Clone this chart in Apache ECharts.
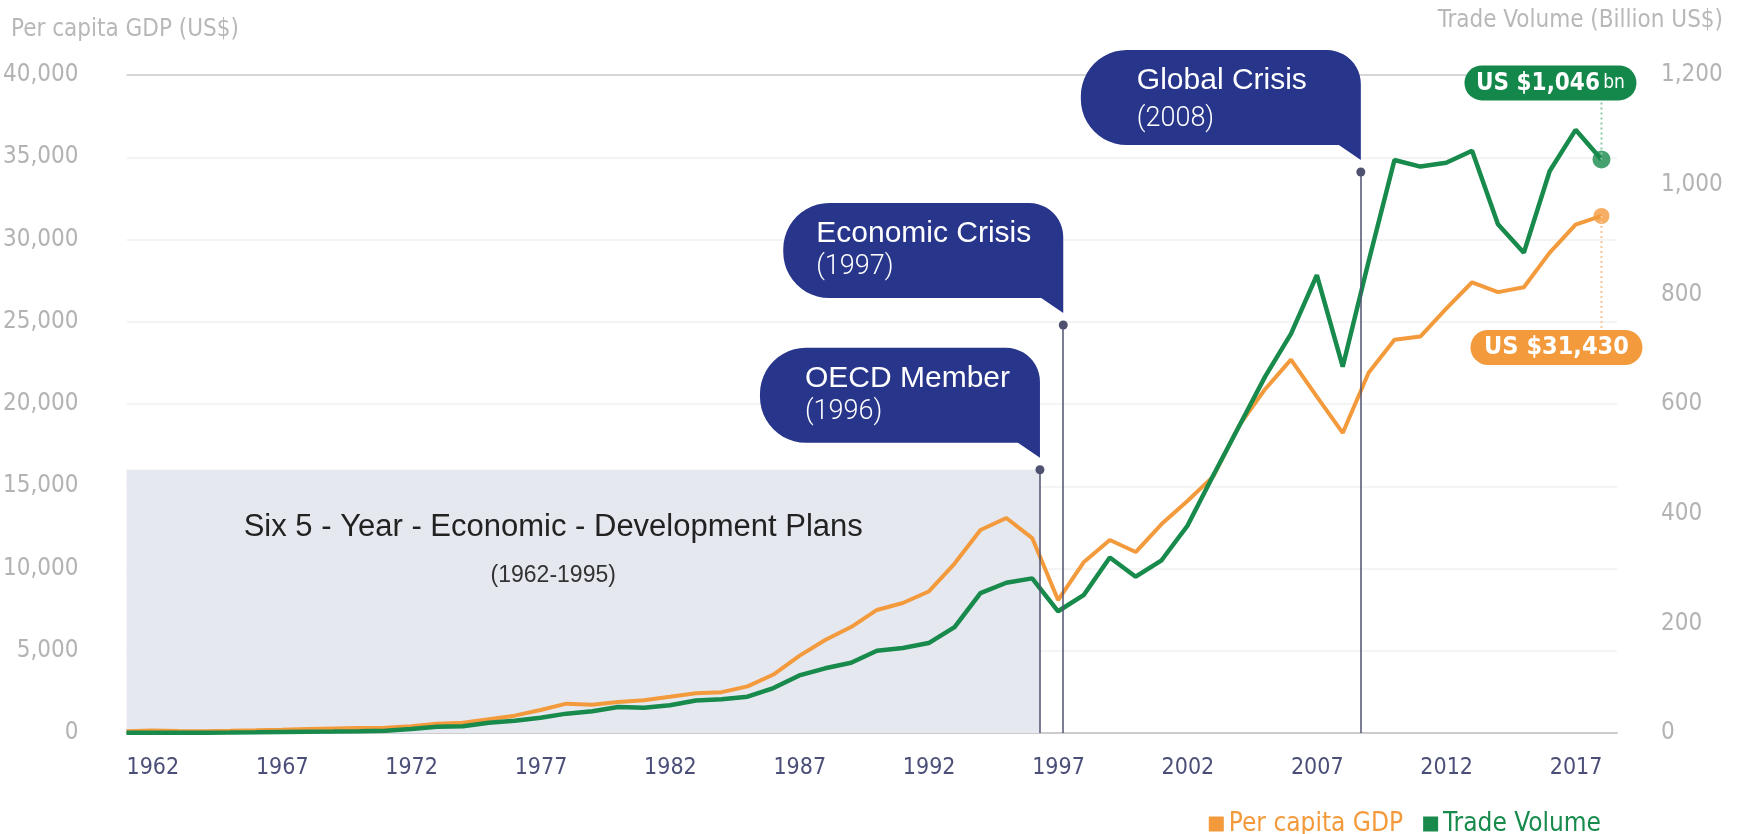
<!DOCTYPE html>
<html>
<head>
<meta charset="utf-8">
<title>Per capita GDP and Trade Volume</title>
<script src="https://cdn.jsdelivr.net/npm/echarts@6/dist/echarts.min.js"></script>
<style>
  html, body { margin: 0; padding: 0; background: #fff; }
  #chart { width: 1737px; height: 834px; }
</style>
</head>
<body>
<div id="chart"></div>
<script>
var years = [1962, 1963, 1964, 1965, 1966, 1967, 1968, 1969, 1970, 1971,
    1972, 1973, 1974, 1975, 1976, 1977, 1978, 1979, 1980, 1981,
    1982, 1983, 1984, 1985, 1986, 1987, 1988, 1989, 1990, 1991,
    1992, 1993, 1994, 1995, 1996, 1997, 1998, 1999, 2000, 2001,
    2002, 2003, 2004, 2005, 2006, 2007, 2008, 2009, 2010, 2011,
    2012, 2013, 2014, 2015, 2016, 2017, 2018, 2019];

// per capita GDP, US$
var gdp = [106, 146, 124, 109, 133, 161, 199, 243, 279, 301,
    324, 406, 563, 617, 834, 1055, 1400, 1784, 1715, 1883,
    1993, 2199, 2413, 2482, 2835, 3555, 4690, 5650, 6440, 7480,
    7900, 8600, 10300, 12340, 13070, 11850, 8080, 10400, 11730, 11000,
    12700, 14100, 15600, 18700, 20900, 22700, 20450, 18240, 21900, 23900,
    24100, 25800, 27400, 26800, 27100, 29200, 30900, 31430];

// trade volume, billion US$
var trade = [0.5, 0.6, 0.5, 0.6, 0.9, 1.3, 1.9, 2.4, 2.8, 3.4,
    4.2, 7.5, 11.3, 12.4, 18.5, 22.2, 27.8, 35.3, 39.8, 47.4,
    45.9, 50.6, 59.4, 61.4, 66.3, 82, 105, 118, 128, 150,
    155, 164, 193, 255, 274, 282, 222, 252, 320, 285,
    315, 378, 470, 560, 650, 728, 835, 668, 860, 1045,
    1033, 1040, 1062, 928, 876, 1025, 1100, 1046];

var labelYears = [1962, 1967, 1972, 1977, 1982, 1987, 1992, 1997, 2002, 2007, 2012, 2017];

var eventNames = ['OECD Member', 'Economic Crisis', 'Global Crisis'];
var eventYears = ['(1996)', '(1997)', '(2008)'];
var planTitle = 'Six 5 - Year - Economic - Development Plans';
var planYears = '(1962-1995)';

// where the callouts sit (x on the year axis, y on the GDP axis) and their text indent
var callouts = [
    { at: 1997.3, top: 16000, pad: 45, dy: 0 },
    { at: 1998.2, top: 24800, pad: 33, dy: 0 },
    { at: 2009.7, top: 34100, pad: 56, dy: 5 }
];

var NARROW = "'Liberation Sans Narrow', 'DejaVu Sans Condensed', 'Arial Narrow', sans-serif";
var SANS = "'Liberation Sans', Arial, Helvetica, sans-serif";
var ORANGE = '#f39a3c';
var GREEN = '#178a4c';
var NAVY = '#27358b';

var last = years.length - 1;

function fmt(v) {
    return v.toLocaleString('en-US');
}

var myChart = echarts.init(document.getElementById('chart'));

var gridColors = ['#f4f4f4', '#f4f4f4', '#f4f4f4', '#f4f4f4', '#f4f4f4', '#f4f4f4', '#f4f4f4', '#f4f4f4', '#d6d6d6'];

var option = {
    animation: false,
    grid: { left: 125, right: 120, top: 75, bottom: 101 },
    legend: {
        top: 806,
        right: 131,
        icon: 'rect',
        itemWidth: 15,
        itemHeight: 15,
        itemGap: 20,
        textStyle: { fontFamily: NARROW, fontSize: 26 },
        data: [
            { name: 'Per capita GDP', textStyle: { color: ORANGE } },
            { name: 'Trade Volume', textStyle: { color: GREEN } }
        ]
    },
    xAxis: {
        type: 'value',
        min: 1962,
        max: 2019.6,
        axisLine: { lineStyle: { color: '#cccccc', width: 2 } },
        axisTick: { show: false },
        splitLine: { show: false },
        axisLabel: {
            customValues: labelYears,
            align: 'left',
            margin: 24,
            color: '#4b4f78',
            fontFamily: NARROW,
            fontSize: 23,
            formatter: function (v) { return String(v); }
        }
    },
    yAxis: [{
        type: 'value',
        min: 0,
        max: 40000,
        interval: 5000,
        axisLine: { show: false },
        axisTick: { show: false },
        axisLabel: { margin: 48, color: '#b3b3b3', fontFamily: NARROW, fontSize: 24, formatter: fmt },
        splitLine: { lineStyle: { color: gridColors, width: 2 } }
    }, {
        type: 'value',
        min: 0,
        max: 1200,
        interval: 200,
        position: 'right',
        axisLine: { show: false },
        axisTick: { show: false },
        axisLabel: { margin: 44, color: '#b3b3b3', fontFamily: NARROW, fontSize: 24, formatter: fmt },
        splitLine: { show: false }
    }],
    series: [{
        name: 'Per capita GDP',
        type: 'line',
        yAxisIndex: 0,
        symbol: 'none',
        z: 3,
        lineStyle: { color: ORANGE, width: 4 },
        itemStyle: { color: ORANGE },
        data: years.map(function (y, i) { return [y, gdp[i]]; }),
        markArea: {
            silent: true,
            itemStyle: { color: '#e6e8f0' },
            label: {
                show: true,
                position: 'insideTop',
                offset: [-30, 30],
                formatter: '{t|' + planTitle + '}\n{s|' + planYears + '}',
                rich: {
                    t: { fontFamily: SANS, fontSize: 31, color: '#222222', lineHeight: 46 },
                    s: { fontFamily: SANS, fontSize: 23, color: '#333333', lineHeight: 50 }
                }
            },
            data: [[{ xAxis: 1962, yAxis: 0 }, { xAxis: callouts[0].at, yAxis: 16000 }]]
        },
        markLine: {
            silent: true,
            symbol: ['none', 'circle'],
            symbolSize: 9,
            lineStyle: { color: '#4e5270', width: 1.5, type: 'solid' },
            itemStyle: { color: '#2c3050' },
            label: { show: false },
            data: callouts.map(function (c) {
                return [{ coord: [c.at, 0] }, { coord: [c.at, c.top] }];
            })
        }
    }, {
        name: 'Trade Volume',
        type: 'line',
        yAxisIndex: 1,
        symbol: 'none',
        z: 4,
        lineStyle: { color: GREEN, width: 4.5 },
        itemStyle: { color: GREEN },
        data: years.map(function (y, i) { return [y, trade[i]]; })
    }, {
        name: 'gdpEnd',
        type: 'scatter',
        yAxisIndex: 0,
        symbolSize: 16,
        z: 5,
        itemStyle: { color: ORANGE },
        data: [[years[last], gdp[last]]]
    }, {
        name: 'tradeEnd',
        type: 'scatter',
        yAxisIndex: 1,
        symbolSize: 18,
        z: 5,
        itemStyle: { color: GREEN },
        data: [[years[last], trade[last]]]
    }]
};

myChart.setOption(option);

// speech bubble with its tail tip at (tx, ty)
function arcPts(cx, cy, r, a0, a1, pts) {
    for (var i = 0; i <= 12; i++) {
        var a = a0 + (a1 - a0) * i / 12;
        pts.push([cx + r * Math.cos(a), cy + r * Math.sin(a)]);
    }
}
function bubblePoints(tx, ty) {
    var w = 280, h = 95, tail = 15, tw = 22, rl = 46, rt = 34;
    var L = tx - w, B = ty - tail, T = B - h, pts = [];
    arcPts(L + rl, T + rl, rl, Math.PI, 1.5 * Math.PI, pts);
    arcPts(tx - rt, T + rt, rt, 1.5 * Math.PI, 2 * Math.PI, pts);
    pts.push([tx, ty]);
    pts.push([tx - tw, B]);
    arcPts(L + rl, B - rl, rl, 0.5 * Math.PI, Math.PI, pts);
    return pts;
}

var graphics = [];

callouts.forEach(function (c, i) {
    var p = myChart.convertToPixel({ seriesIndex: 0 }, [c.at, c.top]);
    var tx = p[0], ty = p[1] - 12;
    var T = ty - 15 - 95;
    graphics.push({ type: 'polygon', z: 100, shape: { points: bubblePoints(tx, ty) }, style: { fill: NAVY } });
    graphics.push({
        type: 'text', z: 101, x: tx - 280 + c.pad, y: T + 31,
        style: { text: eventNames[i], fill: '#ffffff', fontFamily: SANS, fontSize: 30, verticalAlign: 'middle' }
    });
    graphics.push({
        type: 'text', z: 101, x: tx - 280 + c.pad, y: T + 64 + c.dy,
        style: { text: eventYears[i], fill: '#ffffff', fontFamily: "Roboto, " + SANS, fontWeight: 300, fontSize: 27, verticalAlign: 'middle' }
    });
});

// value pills for the last year
var gEnd = myChart.convertToPixel({ seriesIndex: 0 }, [years[last], gdp[last]]);
var tEnd = myChart.convertToPixel({ seriesIndex: 1 }, [years[last], trade[last]]);

graphics.push({
    type: 'line', z: 90,
    shape: { x1: tEnd[0], y1: tEnd[1], x2: tEnd[0], y2: tEnd[1] - 62 },
    style: { stroke: '#8ccaa6', lineWidth: 2, lineDash: [2, 3] }
});
graphics.push({
    type: 'rect', z: 100,
    shape: { x: tEnd[0] - 137, y: tEnd[1] - 94, width: 172, height: 35, r: 17.5 },
    style: { fill: '#14884a' }
});
graphics.push({
    type: 'text', z: 101, x: tEnd[0] - 51, y: tEnd[1] - 76,
    style: {
        text: '{a|US $' + fmt(trade[last]) + '} {b|bn}',
        align: 'center', verticalAlign: 'middle',
        rich: {
            a: { fontFamily: NARROW, fontWeight: 'bold', fontSize: 24, fill: '#ffffff' },
            b: { fontFamily: NARROW, fontSize: 19, fill: '#ffffff' }
        }
    }
});

graphics.push({
    type: 'line', z: 90,
    shape: { x1: gEnd[0], y1: gEnd[1], x2: gEnd[0], y2: gEnd[1] + 114 },
    style: { stroke: '#f8c48f', lineWidth: 2, lineDash: [2, 3] }
});
graphics.push({
    type: 'rect', z: 100,
    shape: { x: gEnd[0] - 131, y: gEnd[1] + 114, width: 172, height: 35, r: 17.5 },
    style: { fill: '#f29a3c' }
});
graphics.push({
    type: 'text', z: 101, x: gEnd[0] - 45, y: gEnd[1] + 132,
    style: {
        text: 'US $' + fmt(gdp[last]), align: 'center', verticalAlign: 'middle',
        fill: '#ffffff', fontFamily: NARROW, fontWeight: 'bold', fontSize: 25
    }
});

// axis titles
graphics.push({
    type: 'text', left: 11, top: 18,
    style: { text: 'Per capita GDP (US$)', fill: '#b8b8b8', fontFamily: NARROW, fontSize: 24 }
});
graphics.push({
    type: 'text', right: 14, top: 9,
    style: { text: 'Trade Volume (Billion US$)', fill: '#b8b8b8', fontFamily: NARROW, fontSize: 24 }
});

myChart.setOption({ graphic: graphics });
</script>
</body>
</html>
